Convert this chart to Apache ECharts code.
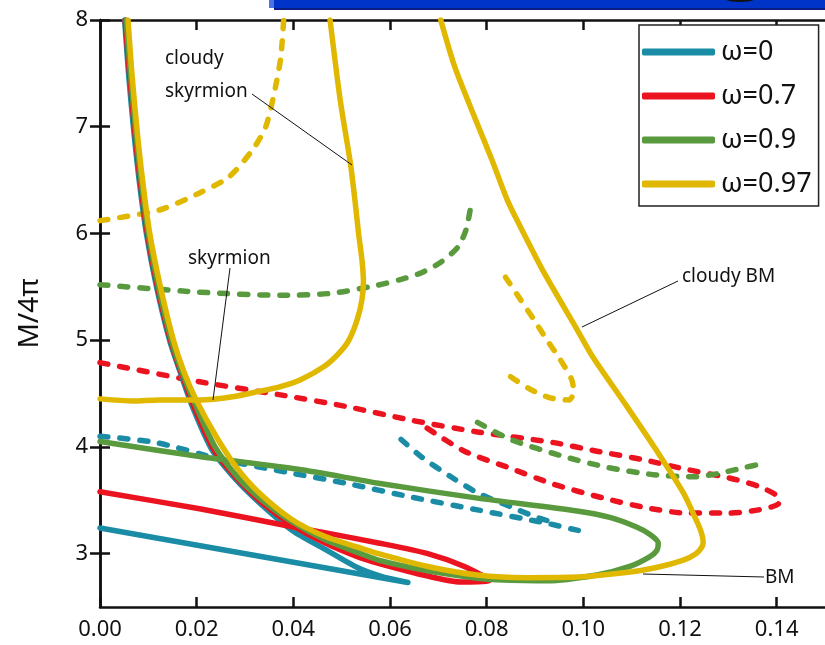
<!DOCTYPE html>
<html>
<head>
<meta charset="utf-8">
<script src="https://cdn.jsdelivr.net/npm/echarts@6/dist/echarts.min.js"></script>
<style>
  html, body { margin: 0; padding: 0; background: #fff; }
  #chart { width: 825px; height: 645px; }
</style>
</head>
<body>
<div id="chart"></div>
<script>
// axis ticks
const xTicks = [0, 0.02, 0.04, 0.06, 0.08, 0.1, 0.12, 0.14]
const yTicks = [3, 4, 5, 6, 7, 8]
const legendNames = ['ω=0', 'ω=0.7', 'ω=0.9', 'ω=0.97']

// omega = 0 (teal)
const tealSolid = [[0, 3.24], [0.0637, 2.73], [0.058, 2.79], [0.0528, 2.88], [0.0466, 3.04], [0.0397, 3.22], [0.0329, 3.48], [0.0282, 3.69], [0.0232, 3.97], [0.0191, 4.38], [0.0166, 4.7], [0.0144, 5.0], [0.0117, 5.5], [0.0096, 6.0], [0.0081, 6.5], [0.0069, 7.0], [0.0059, 7.5], [0.0051, 8.0]]
const tealDashA = [[0, 4.1], [0.0117, 4.04], [0.0253, 3.88], [0.039, 3.76], [0.0508, 3.66], [0.0644, 3.53], [0.0781, 3.41], [0.0919, 3.29], [0.0987, 3.22], [0.1011, 3.2]]
const tealDashB = [[0.0623, 4.07], [0.0664, 3.91], [0.0726, 3.72], [0.0781, 3.57], [0.0849, 3.44], [0.0898, 3.35], [0.0939, 3.29]]

// omega = 0.7 (red)
const redSolid = [[0, 3.58], [0.0206, 3.42], [0.04, 3.25], [0.0473, 3.19], [0.0576, 3.1], [0.0678, 3.0], [0.0754, 2.88], [0.0806, 2.75], [0.0746, 2.735], [0.0678, 2.79], [0.0576, 2.91], [0.0534, 2.97], [0.0466, 3.1], [0.0397, 3.27], [0.0334, 3.48], [0.0286, 3.69], [0.0236, 3.97], [0.0194, 4.38], [0.0168, 4.7], [0.0146, 5.0], [0.0119, 5.5], [0.0098, 6.0], [0.0083, 6.5], [0.0071, 7.0], [0.0061, 7.5], [0.0052, 8.0]]
const redDash = [[0, 4.79], [0.0206, 4.61], [0.037, 4.49], [0.0508, 4.38], [0.0644, 4.25], [0.0781, 4.14], [0.0939, 4.04], [0.1028, 3.96], [0.1124, 3.88], [0.1213, 3.79], [0.1301, 3.71], [0.1363, 3.63], [0.1404, 3.52], [0.1404, 3.47], [0.1363, 3.41], [0.1301, 3.38], [0.1213, 3.38], [0.113, 3.43], [0.1042, 3.52], [0.0939, 3.65], [0.0849, 3.8], [0.0754, 3.96], [0.0672, 4.19]]

// omega = 0.9 (green)
const greenSolid = [[0, 4.05], [0.0206, 3.91], [0.041, 3.79], [0.0576, 3.66], [0.0781, 3.52], [0.0987, 3.4], [0.1055, 3.34], [0.111, 3.25], [0.1138, 3.18], [0.1155, 3.1], [0.1152, 3.03], [0.1137, 2.97], [0.1096, 2.88], [0.1028, 2.8], [0.0925, 2.745], [0.0822, 2.755], [0.0781, 2.77], [0.0678, 2.84], [0.0576, 2.94], [0.0534, 3.01], [0.0466, 3.13], [0.0397, 3.3], [0.0336, 3.5], [0.0288, 3.7], [0.0238, 4.0], [0.0197, 4.4], [0.017, 4.7], [0.0148, 5.0], [0.0121, 5.5], [0.01, 6.0], [0.0085, 6.5], [0.0073, 7.0], [0.0063, 7.5], [0.0054, 8.0]]
const greenDashA = [[0, 5.52], [0.0206, 5.45], [0.038, 5.42], [0.048, 5.44], [0.0569, 5.51], [0.0623, 5.57], [0.0664, 5.63], [0.0705, 5.73], [0.074, 5.87], [0.0757, 6.03], [0.0767, 6.25]]
const greenDashB = [[0.0781, 4.23], [0.0849, 4.07], [0.096, 3.91], [0.1048, 3.81], [0.1145, 3.74], [0.1233, 3.72], [0.1289, 3.76], [0.1336, 3.81], [0.1367, 3.84]]

// omega = 0.97 (yellow)
const yellowSolid = [[0.0058, 8.0], [0.0066, 7.5], [0.0076, 7.0], [0.0088, 6.5], [0.0103, 6.0], [0.0125, 5.5], [0.0152, 5.0], [0.0174, 4.7], [0.0199, 4.44], [0.024, 4.1], [0.0282, 3.81], [0.0329, 3.57], [0.0397, 3.32], [0.0466, 3.16], [0.0534, 3.06], [0.0576, 3.0], [0.0678, 2.88], [0.0781, 2.8], [0.0884, 2.775], [0.0987, 2.78], [0.1083, 2.82], [0.1151, 2.87], [0.1207, 2.94], [0.1233, 3.0], [0.1245, 3.06], [0.1248, 3.11], [0.1244, 3.2], [0.1233, 3.32], [0.1207, 3.57], [0.1151, 3.97], [0.109, 4.38], [0.102, 4.84], [0.0987, 5.1], [0.0919, 5.63], [0.087, 6.06], [0.0843, 6.31], [0.081, 6.7], [0.0775, 7.09], [0.0734, 7.56], [0.0705, 8.0]]
const yellowSkyrmion = [[0, 4.45], [0.0068, 4.43], [0.0123, 4.44], [0.0206, 4.44], [0.0275, 4.47], [0.0329, 4.52], [0.037, 4.56], [0.0415, 4.63], [0.0466, 4.76], [0.0495, 4.88], [0.0515, 5.0], [0.0532, 5.19], [0.0542, 5.38], [0.0545, 5.55], [0.0542, 5.75], [0.0535, 6.0], [0.0527, 6.33], [0.0518, 6.66], [0.0497, 7.25], [0.0476, 8.0]]
const yellowDashA = [[0, 6.12], [0.0123, 6.22], [0.0206, 6.38], [0.0267, 6.53], [0.0315, 6.78], [0.0343, 7.0], [0.0363, 7.37], [0.0374, 7.65], [0.038, 8.0]]
const yellowDashB = [[0.0839, 5.59], [0.087, 5.38], [0.0898, 5.19], [0.0925, 5.0], [0.0952, 4.82], [0.0976, 4.63], [0.098, 4.51], [0.097, 4.44], [0.0931, 4.46], [0.089, 4.54], [0.0849, 4.66]]

const FONT = '"Noto Sans", sans-serif'
const colors = { 'ω=0': '#1a8ca6', 'ω=0.7': '#ec1320', 'ω=0.9': '#5a9a3e', 'ω=0.97': '#e0b800' }

function curve(name, data, dashed) {
  return {
    name: name,
    type: 'line',
    data: data,
    smooth: 0.25,
    symbol: 'none',
    z: dashed ? 2 : 3,
    color: colors[name],
    lineStyle: {
      color: colors[name],
      width: 5.5,
      type: dashed ? [8, 12] : 'solid',
      cap: 'round',
      join: 'round'
    },
    emphasis: { disabled: true }
  }
}

const axisLineStyle = { color: '#111', width: 2.5 }

const chart = echarts.init(document.getElementById('chart'))
chart.setOption({
  animation: false,
  backgroundColor: '#fff',
  grid: { left: 100, right: -5, top: 20, bottom: 38 },
  xAxis: [
    {
      type: 'value', min: 0, max: 0.15, position: 'bottom',
      axisLine: { lineStyle: axisLineStyle },
      axisTick: { inside: true, length: 10, lineStyle: axisLineStyle, customValues: xTicks },
      axisLabel: { customValues: xTicks, fontSize: 22, fontFamily: FONT, color: '#111', margin: 12, formatter: v => v.toFixed(2) },
      splitLine: { show: false }
    },
    {
      type: 'value', min: 0, max: 0.15, position: 'top',
      axisLine: { lineStyle: axisLineStyle },
      axisTick: { inside: true, length: 10, lineStyle: axisLineStyle, customValues: xTicks },
      axisLabel: { show: false },
      splitLine: { show: false }
    }
  ],
  yAxis: [
    {
      type: 'value', min: 2.5, max: 8, position: 'left',
      name: 'M/4π', nameLocation: 'middle', nameGap: 56,
      nameTextStyle: { fontSize: 28, fontFamily: FONT, color: '#111' },
      axisLine: { lineStyle: axisLineStyle },
      axisTick: { inside: true, length: 10, lineStyle: axisLineStyle, customValues: yTicks },
      axisLabel: { customValues: yTicks, fontSize: 22, fontFamily: FONT, color: '#111', margin: 12 },
      splitLine: { show: false }
    },
    {
      type: 'value', min: 2.5, max: 8, position: 'right',
      axisLine: { lineStyle: axisLineStyle },
      axisTick: { inside: true, length: 10, lineStyle: axisLineStyle, customValues: yTicks },
      axisLabel: { show: false },
      splitLine: { show: false }
    }
  ],
  legend: {
    data: legendNames,
    orient: 'vertical',
    left: 639,
    top: 25,
    padding: [12, 7, 7, 3],
    itemGap: 14,
    itemWidth: 73,
    itemHeight: 7,
    icon: 'roundRect',
    itemStyle: { borderWidth: 0 },
    borderColor: '#222',
    borderWidth: 1.5,
    backgroundColor: '#fff',
    selectedMode: false,
    textStyle: { fontSize: 27, fontFamily: FONT, color: '#111', lineHeight: 30, padding: [0, 0, 0, 1] }
  },
  series: [
    curve('ω=0', tealSolid, false),
    curve('ω=0.7', redSolid, false),
    curve('ω=0.9', greenSolid, false),
    curve('ω=0.97', yellowSolid, false),
    curve('ω=0.97', yellowSkyrmion, false),
    curve('ω=0', tealDashA, true),
    curve('ω=0', tealDashB, true),
    curve('ω=0.7', redDash, true),
    curve('ω=0.9', greenDashA, true),
    curve('ω=0.9', greenDashB, true),
    curve('ω=0.97', yellowDashA, true),
    curve('ω=0.97', yellowDashB, true)
  ],
  graphic: [
    // cropped slide banner at the top edge
    { type: 'rect', shape: { x: 269, y: 0, width: 560, height: 8 }, style: { fill: '#0033c8' }, z: 10 },
    { type: 'rect', shape: { x: 274, y: 8, width: 555, height: 2 }, style: { fill: '#0a1c82' }, z: 10 },
    { type: 'rect', shape: { x: 269, y: 0, width: 5, height: 8 }, style: { fill: '#4a72e6' }, z: 10 },
    { type: 'ellipse', shape: { cx: 740, cy: -2, rx: 16, ry: 4 }, style: { fill: '#111' }, z: 11 },
    // annotations
    { type: 'text', z: 20, style: { text: 'cloudy', x: 165, y: 59, font: '19px ' + FONT, fill: '#111', verticalAlign: 'middle' } },
    { type: 'text', z: 20, style: { text: 'skyrmion', x: 165, y: 92, font: '19px ' + FONT, fill: '#111', verticalAlign: 'middle' } },
    { type: 'line', z: 20, shape: { x1: 252, y1: 94, x2: 352, y2: 165 }, style: { stroke: '#111', lineWidth: 1 } },
    { type: 'text', z: 20, style: { text: 'skyrmion', x: 188, y: 259, font: '19px ' + FONT, fill: '#111', verticalAlign: 'middle' } },
    { type: 'line', z: 20, shape: { x1: 230, y1: 268, x2: 213, y2: 400 }, style: { stroke: '#111', lineWidth: 1 } },
    { type: 'text', z: 20, style: { text: 'cloudy BM', x: 682, y: 277, font: '19px ' + FONT, fill: '#111', verticalAlign: 'middle' } },
    { type: 'line', z: 20, shape: { x1: 678, y1: 281, x2: 582, y2: 327 }, style: { stroke: '#111', lineWidth: 1 } },
    { type: 'text', z: 20, style: { text: 'BM', x: 765, y: 578, font: '19px ' + FONT, fill: '#111', verticalAlign: 'middle' } },
    { type: 'line', z: 20, shape: { x1: 764, y1: 577, x2: 643, y2: 574 }, style: { stroke: '#111', lineWidth: 1 } }
  ]
})
</script>
</body>
</html>
